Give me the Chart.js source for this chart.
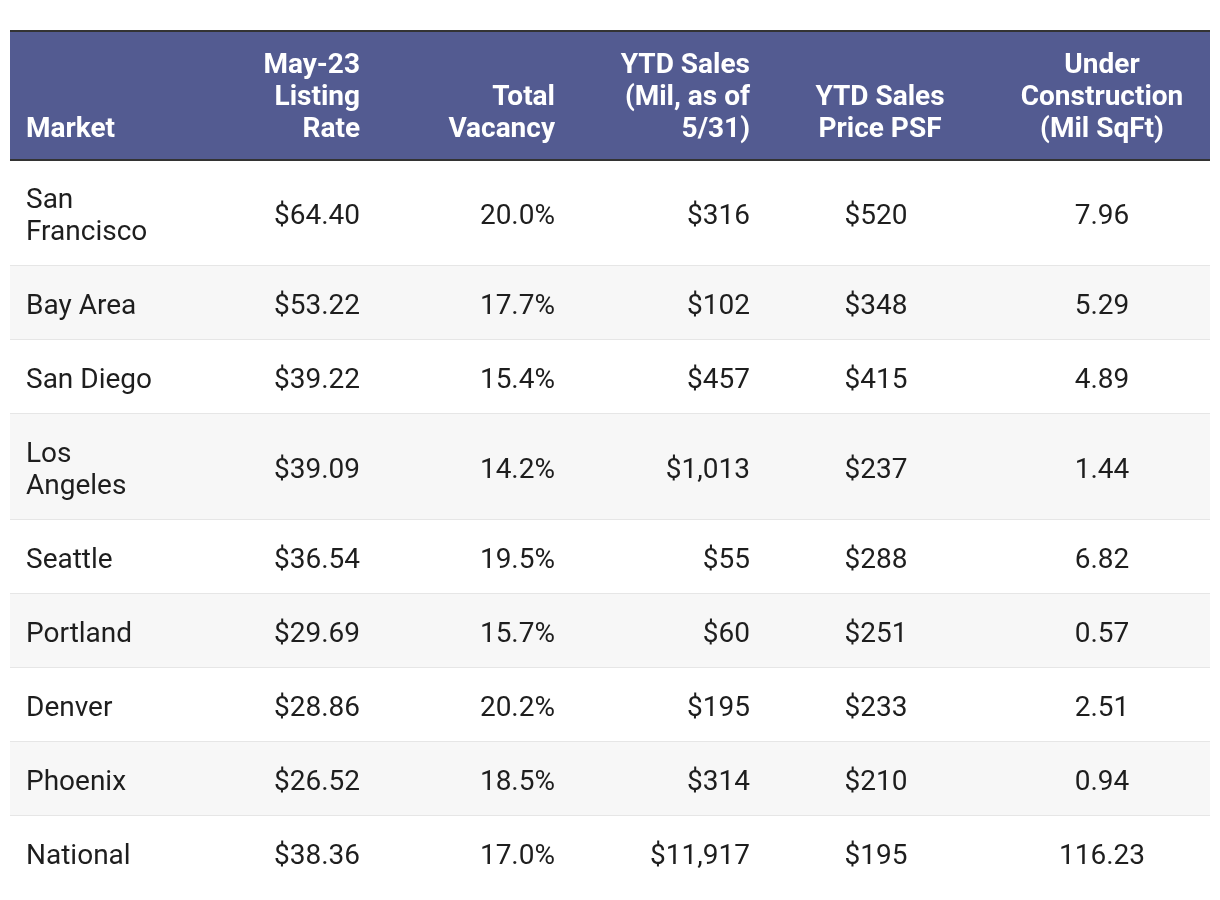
<!DOCTYPE html>
<html>
<head>
<meta charset="utf-8">
<script src="https://cdn.jsdelivr.net/npm/chart.js@4"></script>
<style>
  html, body { margin: 0; padding: 0; background: #fff; }
  #wrap { width: 1220px; height: 900px; }
</style>
</head>
<body>
<div id="wrap"><canvas id="table"></canvas></div>
<script>
// table data
const markets = [['San', 'Francisco'], 'Bay Area', 'San Diego', ['Los', 'Angeles'], 'Seattle', 'Portland', 'Denver', 'Phoenix', 'National'];
const listingRate = [64.40, 53.22, 39.22, 39.09, 36.54, 29.69, 28.86, 26.52, 38.36];
const totalVacancy = [20.0, 17.7, 15.4, 14.2, 19.5, 15.7, 20.2, 18.5, 17.0];
const ytdSales = [316, 102, 457, 1013, 55, 60, 195, 314, 11917];
const ytdPricePsf = [520, 348, 415, 237, 288, 251, 233, 210, 195];
const underConstruction = [7.96, 5.29, 4.89, 1.44, 6.82, 0.57, 2.51, 0.94, 116.23];
const headers = [
  ['Market'],
  ['May-23', 'Listing', 'Rate'],
  ['Total', 'Vacancy'],
  ['YTD Sales', '(Mil, as of', '5/31)'],
  ['YTD Sales', 'Price PSF'],
  ['Under', 'Construction', '(Mil SqFt)'],
];

// layout (in table units, 1 unit = 1px)
const LINE = 32;
const ROW_PAD = 21;
const HEADER_H = 130;
const HEADER_BOTTOM_GAP = 31;
const TABLE_W = 1200;
const colAnchor = [16, 350, 545, 740, 866, 1092];
const headAnchor = [16, 350, 545, 740, 870, 1092];
const colAlign = ['left', 'right', 'right', 'right', 'center', 'center'];

const fmtMoney2 = v => '$' + v.toFixed(2);
const fmtPct = v => v.toFixed(1) + '%';
const fmtMoney = v => '$' + v.toLocaleString('en-US');
const fmtNum = v => v.toFixed(2);

const columns = [
  markets.map(m => (Array.isArray(m) ? m : [m])),
  listingRate.map(v => [fmtMoney2(v)]),
  totalVacancy.map(v => [fmtPct(v)]),
  ytdSales.map(v => [fmtMoney(v)]),
  ytdPricePsf.map(v => [fmtMoney(v)]),
  underConstruction.map(v => [fmtNum(v)]),
];

// row extents from the number of lines in each row
const rowTop = [];
const rowBottom = [];
let cursor = HEADER_H;
markets.forEach((m, i) => {
  const lines = Math.max(...columns.map(c => c[i].length));
  rowTop.push(cursor);
  cursor += ROW_PAD * 2 + lines * LINE;
  rowBottom.push(cursor);
});
const TABLE_H = cursor;

const BODY_FONT = '400 28px Roboto';
const HEAD_FONT = '700 28px Roboto';

const tablePlugin = {
  id: 'tablePlugin',
  beforeDatasetsDraw(chart) {
    const { ctx, scales: { x, y } } = chart;
    const x0 = x.getPixelForValue(0);
    const x1 = x.getPixelForValue(TABLE_W);
    ctx.save();
    // rows
    rowTop.forEach((t, i) => {
      const top = y.getPixelForValue(t);
      const bot = y.getPixelForValue(rowBottom[i]);
      ctx.fillStyle = i % 2 === 1 ? '#f7f7f7' : '#ffffff';
      ctx.fillRect(x0, top, x1 - x0, bot - top);
      if (i < rowTop.length - 1) {
        ctx.fillStyle = '#e6e6e6';
        ctx.fillRect(x0, bot - 1, x1 - x0, 2);
      }
    });
    // header
    const hTop = y.getPixelForValue(0);
    const hBot = y.getPixelForValue(HEADER_H);
    ctx.fillStyle = '#535b91';
    ctx.fillRect(x0, hTop, x1 - x0, hBot - hTop);
    ctx.fillStyle = '#333333';
    ctx.fillRect(x0, hTop, x1 - x0, 2);
    ctx.fillRect(x0, hBot - 1, x1 - x0, 2);
    // header text, bottom aligned
    ctx.font = HEAD_FONT;
    ctx.fillStyle = '#ffffff';
    ctx.textBaseline = 'middle';
    headers.forEach((lines, c) => {
      ctx.textAlign = colAlign[c];
      const px = x.getPixelForValue(headAnchor[c]);
      lines.forEach((txt, k) => {
        const offset = (lines.length - 1 - k) * LINE;
        const py = y.getPixelForValue(HEADER_H - HEADER_BOTTOM_GAP - offset);
        ctx.fillText(txt, px, py + 1);
      });
    });
    ctx.restore();
  },
  afterDatasetsDraw(chart) {
    const { ctx } = chart;
    ctx.save();
    ctx.font = BODY_FONT;
    ctx.fillStyle = '#1e1e1e';
    ctx.textBaseline = 'middle';
    chart.data.datasets.forEach((ds, c) => {
      const meta = chart.getDatasetMeta(c);
      ctx.textAlign = colAlign[c];
      meta.data.forEach((pt, r) => {
        const lines = ds.cellText[r];
        lines.forEach((txt, k) => {
          const dy = (k - (lines.length - 1) / 2) * LINE;
          ctx.fillText(txt, pt.x, pt.y + dy + 4);
        });
      });
    });
    ctx.restore();
  },
};

const datasets = columns.map((cells, c) => ({
  label: headers[c].join(' '),
  data: cells.map((_, r) => ({ x: colAnchor[c], y: (rowTop[r] + rowBottom[r]) / 2 })),
  cellText: cells,
  pointRadius: 0,
  pointHoverRadius: 0,
  showLine: false,
}));

new Chart(document.getElementById('table'), {
  type: 'scatter',
  data: { datasets },
  options: {
    responsive: true,
    maintainAspectRatio: false,
    animation: false,
    events: [],
    layout: { padding: { left: 10, right: 10, top: 30, bottom: 900 - 30 - TABLE_H } },
    scales: {
      x: { type: 'linear', display: false, min: 0, max: TABLE_W },
      y: { type: 'linear', display: false, min: 0, max: TABLE_H, reverse: true },
    },
    plugins: {
      legend: { display: false },
      tooltip: { enabled: false },
    },
  },
  plugins: [tablePlugin],
});
</script>
</body>
</html>
